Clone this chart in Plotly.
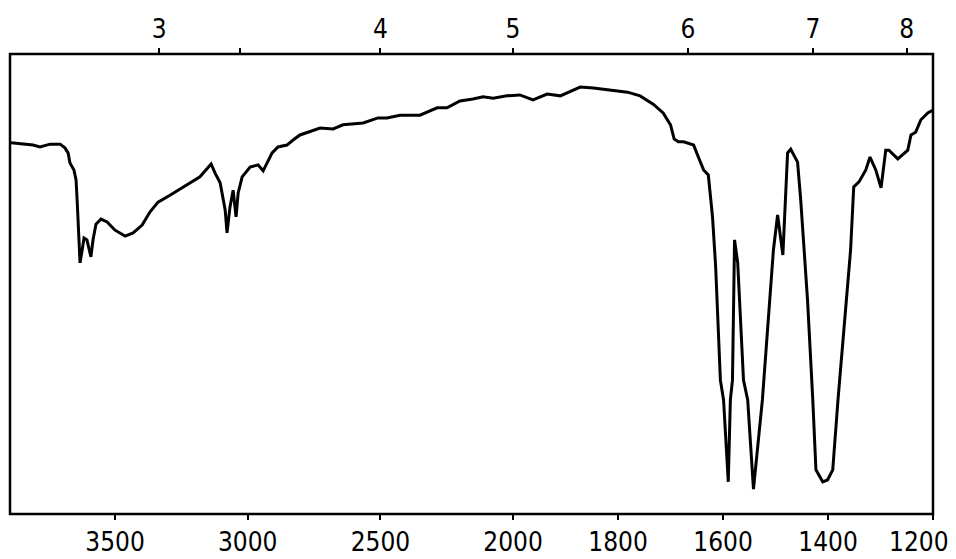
import plotly.graph_objects as go

# IR spectrum (wavenumber in cm^-1, transmittance in %)
wavenumber = [3892, 3809, 3783, 3745, 3707, 3689, 3677, 3670, 3655, 3647,
              3643, 3636, 3632, 3624, 3617, 3606, 3598, 3591, 3583, 3572,
              3553, 3530, 3500, 3462, 3432, 3398, 3368, 3338, 3293, 3217,
              3180, 3138, 3123, 3104, 3097, 3085, 3078, 3067, 3055, 3044,
              3036, 3021, 2991, 2961, 2942, 2927, 2908, 2886, 2852, 2829,
              2803, 2727, 2678, 2641, 2565, 2509, 2475, 2426, 2351, 2286,
              2249, 2200, 2151, 2113, 2075, 2023, 2000, 1987, 1962, 1935,
              1910, 1897, 1872, 1847, 1815, 1782, 1758, 1733, 1714, 1700,
              1693, 1685, 1675, 1656, 1647, 1637, 1628, 1620, 1614, 1605,
              1599, 1590, 1586, 1582, 1578, 1572, 1561, 1553, 1542, 1525,
              1504, 1496, 1486, 1477, 1471, 1458, 1452, 1439, 1429, 1423,
              1410, 1401, 1391, 1381, 1357, 1351, 1341, 1328, 1320, 1309,
              1299, 1290, 1284, 1267, 1248, 1242, 1233, 1223, 1210, 1200]
transmittance = [80.7, 80.2, 79.8, 80.4, 80.4, 79.6, 78.5, 76.3, 74.8, 72.6,
                 68.3, 58.9, 54.6, 57.4, 60.0, 59.6, 57.4, 55.9, 59.6, 63.0,
                 64.1, 63.5, 61.7, 60.4, 61.1, 62.8, 65.7, 67.8, 69.3, 72.0,
                 73.3, 76.1, 74.1, 72.0, 69.8, 66.1, 61.1, 66.7, 70.4, 64.6,
                 69.8, 73.3, 75.4, 75.9, 74.6, 76.3, 78.5, 79.8, 80.2, 81.3,
                 82.4, 83.9, 83.7, 84.6, 85.0, 86.1, 86.1, 86.7, 86.7, 88.3,
                 88.3, 89.8, 90.2, 90.7, 90.4, 90.9, 91.0, 91.1, 90.0, 91.3,
                 90.9, 91.5, 92.8, 92.6, 92.2, 91.7, 90.9, 89.1, 87.2, 84.6,
                 81.5, 80.9, 80.9, 80.2, 77.6, 74.8, 73.7, 64.6, 53.7, 29.1,
                 24.8, 7.0, 24.8, 29.1, 59.6, 54.6, 29.1, 24.8, 5.4, 24.8,
                 57.4, 65.0, 56.3, 78.5, 79.3, 76.5, 68.3, 46.5, 24.8, 9.6,
                 7.0, 7.4, 9.6, 24.8, 57.4, 71.1, 72.2, 74.8, 77.6, 74.8,
                 70.9, 79.1, 79.1, 77.2, 79.1, 82.4, 83.0, 85.7, 87.2, 87.8]

# bottom axis (wavenumber) ticks
bottom_ticks_high = [3500, 3000, 2500]
bottom_ticks_low = [2000, 1800, 1600, 1400, 1200]
# top axis (wavelength, micrometres) ticks
top_um_high = [3, 3.3, 4]
top_labels_high = ["3", "", "4"]
top_um_low = [5, 6, 7, 8]
top_labels_low = ["5", "6", "7", "8"]

SPLIT = 2000
wn_hi = [w for w in wavenumber if w >= SPLIT]
t_hi = [t for w, t in zip(wavenumber, transmittance) if w >= SPLIT]
wn_lo = [w for w in wavenumber if w <= SPLIT]
t_lo = [t for w, t in zip(wavenumber, transmittance) if w <= SPLIT]

FONT = dict(family="DejaVu Sans Condensed, Liberation Sans Narrow, sans-serif",
            size=26, color="black")
LINE = dict(color="black", width=3)

fig = go.Figure()
fig.add_trace(go.Scatter(x=wn_hi, y=t_hi, mode="lines", line=LINE,
                         xaxis="x", yaxis="y", showlegend=False, hoverinfo="skip"))
fig.add_trace(go.Scatter(x=wn_lo, y=t_lo, mode="lines", line=LINE,
                         xaxis="x2", yaxis="y", showlegend=False, hoverinfo="skip"))

d_split = 0.545
rng_hi = [3896, 2000]
rng_lo = [2000, 1200]

common = dict(showgrid=False, zeroline=False, showline=False, automargin=False,
              ticks="outside", ticklen=5, tickwidth=2, tickcolor="black",
              tickfont=FONT, tickmode="array", ticklabeloverflow="allow")

# the last bottom label sits at the very edge of the page; it is drawn as an
# annotation nudged slightly left so it is not clipped
low_text = [str(v) for v in bottom_ticks_low]
edge_label = low_text[-1]
low_text[-1] = ""

fig.update_layout(
    width=948, height=551,
    margin=dict(l=2, r=23, t=46, b=45, autoexpand=False),
    paper_bgcolor="white", plot_bgcolor="white",
    xaxis=dict(domain=[0, d_split], range=rng_hi, anchor="y",
               tickvals=bottom_ticks_high, ticktext=[str(v) for v in bottom_ticks_high],
               ticklabelstandoff=0, **common),
    xaxis2=dict(domain=[d_split, 1], range=rng_lo, anchor="y",
                tickvals=bottom_ticks_low, ticktext=low_text,
                ticklabelstandoff=0, **common),
    xaxis3=dict(overlaying="x", side="top", range=rng_hi, anchor="y",
                tickvals=[10000 / u for u in top_um_high], ticktext=top_labels_high,
                ticklabelstandoff=0, **common),
    xaxis4=dict(overlaying="x2", side="top", range=rng_lo, anchor="y",
                tickvals=[10000 / u for u in top_um_low], ticktext=top_labels_low,
                ticklabelstandoff=0, **common),
    yaxis=dict(range=[0, 100], showgrid=False, zeroline=False, showline=False,
               showticklabels=False, ticks="", automargin=False),
    shapes=[dict(type="rect", xref="paper", yref="paper", x0=0, x1=1, y0=0, y1=1,
                 line=dict(color="black", width=2.5), fillcolor="rgba(0,0,0,0)")],
    annotations=[dict(text=edge_label, x=bottom_ticks_low[-1], xref="x2",
                      y=0, yref="paper", xanchor="center", yanchor="top",
                      xshift=-14, yshift=-11, showarrow=False, font=FONT)],
)

# dummy traces so the top axes are drawn
fig.add_trace(go.Scatter(x=[rng_hi[0]], y=[None], xaxis="x3", yaxis="y",
                         showlegend=False, hoverinfo="skip"))
fig.add_trace(go.Scatter(x=[rng_lo[0]], y=[None], xaxis="x4", yaxis="y",
                         showlegend=False, hoverinfo="skip"))

fig.write_html("out.html")
